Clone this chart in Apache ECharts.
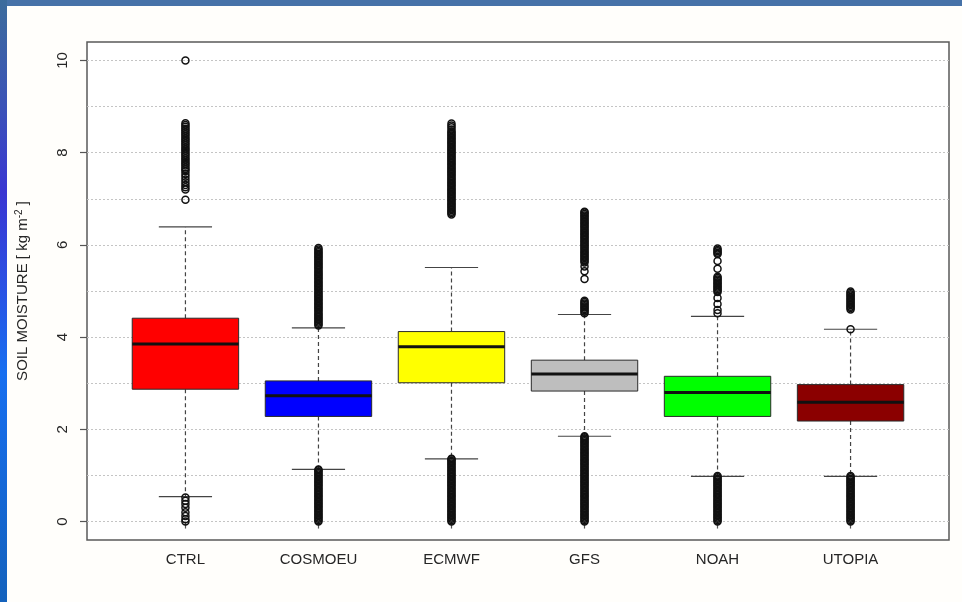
<!DOCTYPE html>
<html>
<head>
<meta charset="utf-8">
<script src="https://cdn.jsdelivr.net/npm/echarts@6/dist/echarts.min.js"></script>
<style>
  html, body { margin: 0; padding: 0; background: #fffefb; }
  #chart { position: absolute; left: 0; top: 0; width: 962px; height: 602px; }
  #topbar { position: absolute; left: 0; top: 0; width: 962px; height: 6px; background: #4672a8; z-index: 5; }
  #leftbar { position: absolute; left: 0; top: 0; width: 7px; height: 602px; z-index: 6;
    background: linear-gradient(to bottom, #3c6c9c 0%, #3b52b8 18%, #3a36d2 32%, #2a52e4 48%, #176ff0 62%, #1568d8 80%, #1462bc 100%); }
</style>
</head>
<body>
<div id="chart"></div>
<div id="topbar"></div>
<div id="leftbar"></div>
<script>
// ---------- data ----------
const categories = ['CTRL', 'COSMOEU', 'ECMWF', 'GFS', 'NOAH', 'UTOPIA'];
const whiskerLow  = [0.54, 1.13, 1.36, 1.85, 0.98, 0.98];
const quartile1   = [2.87, 2.28, 3.01, 2.83, 2.28, 2.18];
const medians     = [3.85, 2.73, 3.79, 3.20, 2.80, 2.59];
const quartile3   = [4.41, 3.05, 4.12, 3.50, 3.15, 2.97];
const whiskerHigh = [6.39, 4.20, 5.51, 4.49, 4.45, 4.17];

const outCTRL = [0.0, 0.05, 0.12, 0.2, 0.3, 0.38, 0.45, 0.52,
  6.98, 7.2, 7.25, 7.3, 7.36, 7.42, 7.48, 7.54, 7.6, 7.64, 7.68, 7.72, 7.76, 7.8, 7.84, 7.88,
  7.92, 7.96, 8.0, 8.04, 8.08, 8.12, 8.16, 8.2, 8.24, 8.28, 8.32, 8.36, 8.4, 8.44, 8.48,
  8.52, 8.56, 8.6, 8.64, 10.0];
const outCOSMOEU = [0.00, 0.03, 0.06, 0.09, 0.12, 0.15, 0.18, 0.21, 0.24, 0.27, 0.30, 0.33,
  0.36, 0.39, 0.42, 0.45, 0.48, 0.51, 0.54, 0.57, 0.60, 0.63, 0.66, 0.69, 0.72, 0.75, 0.78,
  0.81, 0.84, 0.87, 0.90, 0.93, 0.96, 0.99, 1.02, 1.05, 1.08, 1.11, 1.13,
  4.25, 4.28, 4.31, 4.34, 4.37, 4.40, 4.43, 4.46, 4.49, 4.52, 4.55, 4.58, 4.61, 4.64, 4.67,
  4.70, 4.73, 4.76, 4.79, 4.82, 4.85, 4.88, 4.91, 4.94, 4.97, 5.00, 5.03, 5.06, 5.09, 5.12,
  5.15, 5.18, 5.21, 5.24, 5.27, 5.30, 5.33, 5.36, 5.39, 5.42, 5.45, 5.48, 5.51, 5.54, 5.57,
  5.60, 5.63, 5.66, 5.69, 5.72, 5.75, 5.78, 5.81, 5.84, 5.87, 5.90, 5.93];
const outECMWF = [0.00, 0.03, 0.06, 0.09, 0.12, 0.15, 0.18, 0.21, 0.24, 0.27, 0.30, 0.33,
  0.36, 0.39, 0.42, 0.45, 0.48, 0.51, 0.54, 0.57, 0.60, 0.63, 0.66, 0.69, 0.72, 0.75, 0.78,
  0.81, 0.84, 0.87, 0.90, 0.93, 0.96, 0.99, 1.02, 1.05, 1.08, 1.11, 1.14, 1.17, 1.20, 1.23,
  1.26, 1.29, 1.32, 1.35, 1.36,
  6.66, 6.69, 6.72, 6.75, 6.78, 6.81, 6.84, 6.87, 6.90, 6.93, 6.96, 6.99, 7.02, 7.05, 7.08,
  7.11, 7.14, 7.17, 7.20, 7.23, 7.26, 7.29, 7.32, 7.35, 7.38, 7.41, 7.44, 7.47, 7.50, 7.53,
  7.56, 7.59, 7.62, 7.65, 7.68, 7.71, 7.74, 7.77, 7.80, 7.83, 7.86, 7.89, 7.92, 7.95, 7.98,
  8.01, 8.04, 8.07, 8.10, 8.13, 8.16, 8.19, 8.22, 8.25, 8.28, 8.31, 8.34, 8.37, 8.40, 8.43,
  8.46, 8.50, 8.55, 8.59, 8.63];
const outGFS = [0.00, 0.03, 0.06, 0.09, 0.12, 0.15, 0.18, 0.21, 0.24, 0.27, 0.30, 0.33,
  0.36, 0.39, 0.42, 0.45, 0.48, 0.51, 0.54, 0.57, 0.60, 0.63, 0.66, 0.69, 0.72, 0.75, 0.78,
  0.81, 0.84, 0.87, 0.90, 0.93, 0.96, 0.99, 1.02, 1.05, 1.08, 1.11, 1.14, 1.17, 1.20, 1.23,
  1.26, 1.29, 1.32, 1.35, 1.38, 1.41, 1.44, 1.47, 1.50, 1.53, 1.56, 1.59, 1.62, 1.65, 1.68,
  1.71, 1.74, 1.77, 1.80, 1.83, 1.85,
  4.52, 4.55, 4.58, 4.61, 4.64, 4.67, 4.70, 4.73, 4.76, 4.79, 5.26, 5.43, 5.53, 5.62, 5.65,
  5.68, 5.71, 5.74, 5.77, 5.80, 5.83, 5.86, 5.89, 5.92, 5.95, 5.98, 6.01, 6.04, 6.07, 6.10,
  6.13, 6.16, 6.19, 6.22, 6.25, 6.28, 6.31, 6.34, 6.37, 6.40, 6.43, 6.46, 6.49, 6.52, 6.55,
  6.58, 6.61, 6.64, 6.67, 6.70, 6.72];
const outNOAH = [0.00, 0.03, 0.06, 0.09, 0.12, 0.15, 0.18, 0.21, 0.24, 0.27, 0.30, 0.33,
  0.36, 0.39, 0.42, 0.45, 0.48, 0.51, 0.54, 0.57, 0.60, 0.63, 0.66, 0.69, 0.72, 0.75, 0.78,
  0.81, 0.84, 0.87, 0.90, 0.93, 0.96, 0.99,
  4.52, 4.59, 4.72, 4.85, 4.98, 5.01, 5.04, 5.07, 5.10, 5.13, 5.16, 5.19, 5.22, 5.25, 5.28,
  5.31, 5.48, 5.65, 5.80, 5.83, 5.86, 5.89, 5.92];
const outUTOPIA = [0.00, 0.03, 0.06, 0.09, 0.12, 0.15, 0.18, 0.21, 0.24, 0.27, 0.30, 0.33,
  0.36, 0.39, 0.42, 0.45, 0.48, 0.51, 0.54, 0.57, 0.60, 0.63, 0.66, 0.69, 0.72, 0.75, 0.78,
  0.81, 0.84, 0.87, 0.90, 0.93, 0.96, 0.99,
  4.17, 4.60, 4.63, 4.66, 4.69, 4.72, 4.75, 4.78, 4.81, 4.84, 4.87, 4.90, 4.93, 4.96, 4.99];

const yTickValues = [0, 2, 4, 6, 8, 10];
const gridValues = [0, 1, 2, 3, 4, 5, 6, 7, 8, 9, 10];

// ---------- styles ----------
const boxColors = ['#ff0000', '#0000ff', '#ffff00', '#bebebe', '#00ff00', '#8b0000'];
const outlierLists = [outCTRL, outCOSMOEU, outECMWF, outGFS, outNOAH, outUTOPIA];
const positions = categories.map((c, i) => i + 1);

const boxData = categories.map((c, i) => [positions[i], whiskerLow[i], quartile1[i], medians[i], quartile3[i], whiskerHigh[i]]);
const outlierData = [];
outlierLists.forEach((list, i) => list.forEach(v => outlierData.push([positions[i], v])));

const BOX_W = 0.8, CAP_W = 0.4;
function renderBox(params, api) {
  const x = api.value(0);
  const lo = api.coord([x, api.value(1)]);
  const q1 = api.coord([x, api.value(2)]);
  const md = api.coord([x, api.value(3)]);
  const q3 = api.coord([x, api.value(4)]);
  const hi = api.coord([x, api.value(5)]);
  const bw = api.size([BOX_W, 0])[0];
  const cw = api.size([CAP_W, 0])[0];
  const cx = lo[0];
  const wStyle = { stroke: '#444', lineWidth: 1.2, lineDash: [4, 3] };
  const cStyle = { stroke: '#444', lineWidth: 1.2 };
  return {
    type: 'group',
    children: [
      { type: 'line', shape: { x1: cx, y1: q3[1], x2: cx, y2: hi[1] }, style: wStyle },
      { type: 'line', shape: { x1: cx, y1: q1[1], x2: cx, y2: lo[1] }, style: wStyle },
      { type: 'line', shape: { x1: cx - cw / 2, y1: hi[1], x2: cx + cw / 2, y2: hi[1] }, style: cStyle },
      { type: 'line', shape: { x1: cx - cw / 2, y1: lo[1], x2: cx + cw / 2, y2: lo[1] }, style: cStyle },
      { type: 'rect', shape: { x: cx - bw / 2, y: q3[1], width: bw, height: q1[1] - q3[1] },
        style: { fill: boxColors[params.dataIndex], stroke: '#2a2a2a', lineWidth: 1 } },
      { type: 'line', shape: { x1: cx - bw / 2, y1: md[1], x2: cx + bw / 2, y2: md[1] },
        style: { stroke: '#111', lineWidth: 3 } }
    ]
  };
}

const chart = echarts.init(document.getElementById('chart'), null, { renderer: 'canvas' });
const textColor = '#262626';
const font = 'Liberation Sans, Arial, Helvetica, sans-serif';
chart.setOption({
  backgroundColor: '#fffefb',
  animation: false,
  grid: { left: 87, top: 42, width: 862, height: 498, show: true, borderColor: '#5a5a5a', borderWidth: 1.5, backgroundColor: '#ffffff' },
  xAxis: {
    type: 'value', min: 0.26, max: 6.74,
    axisLine: { show: false },
    splitLine: { show: false },
    axisTick: { show: true, customValues: positions, length: 7, lineStyle: { color: '#555', width: 1.2 } },
    axisLabel: { customValues: positions, margin: 12, fontSize: 15, color: textColor, fontFamily: font,
      formatter: v => categories[Math.round(v) - 1] }
  },
  yAxis: {
    type: 'value', min: -0.4, max: 10.4,
    name: '{t|SOIL MOISTURE [ kg m}{s|-2}{t| ]}',
    nameLocation: 'middle', nameGap: 55, nameRotate: 90,
    nameTextStyle: { rich: {
      t: { fontSize: 15, color: textColor, fontFamily: font },
      s: { fontSize: 10, color: textColor, fontFamily: font, verticalAlign: 'top', padding: [0, 0, 8, 0] }
    } },
    axisLine: { show: false },
    splitLine: { show: false },
    axisTick: { show: true, customValues: yTickValues, length: 7, lineStyle: { color: '#555', width: 1.2 } },
    axisLabel: { customValues: yTickValues, rotate: 90, margin: 17, fontSize: 15, color: textColor, fontFamily: font }
  },
  series: [
    {
      type: 'custom', renderItem: renderBox, data: boxData, z: 3,
      encode: { x: 0, y: [1, 2, 3, 4, 5] },
      markLine: {
        silent: true, symbol: ['none', 'none'], label: { show: false },
        lineStyle: { type: [2, 2], color: '#c4c4c4', width: 1 },
        data: gridValues.map(v => ({ yAxis: v })),
        z: 1
      }
    },
    {
      type: 'scatter', data: outlierData, symbol: 'circle', symbolSize: 7, z: 4,
      itemStyle: { color: 'rgba(0,0,0,0)', borderColor: '#111', borderWidth: 1.5, opacity: 1 }
    }
  ]
});
</script>
</body>
</html>
